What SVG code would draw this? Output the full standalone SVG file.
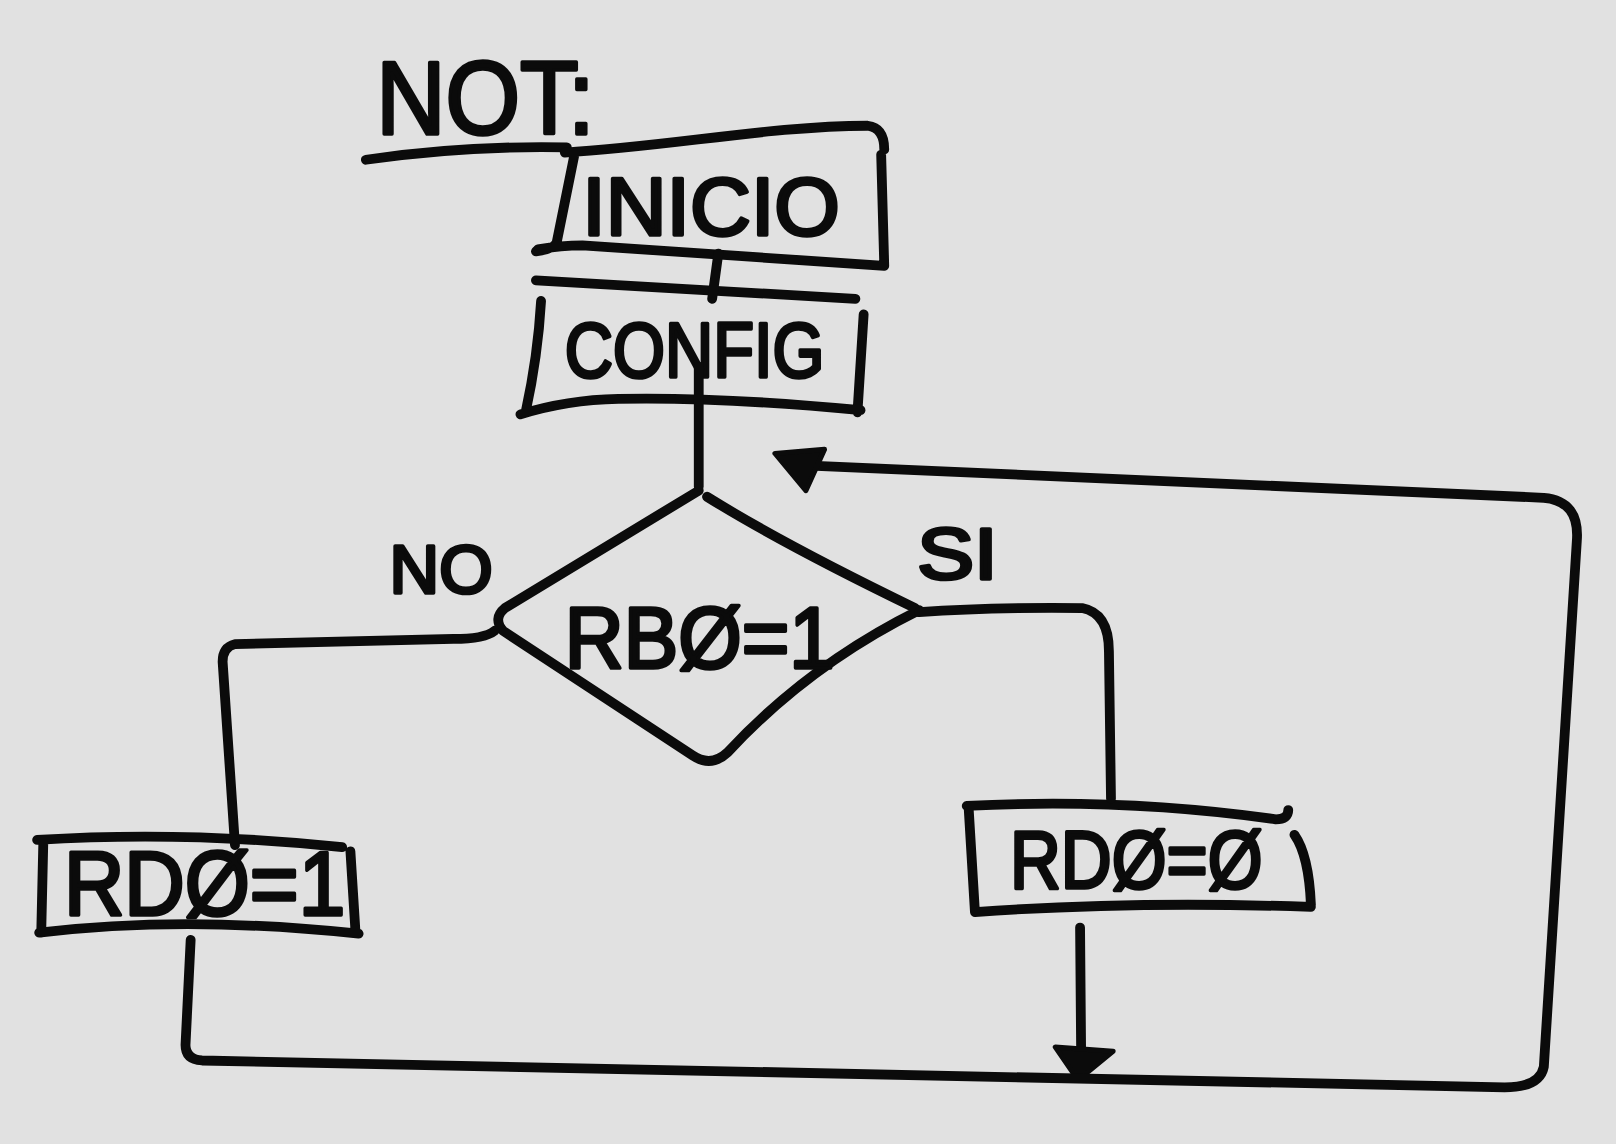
<svg xmlns="http://www.w3.org/2000/svg" width="1616" height="1144" viewBox="0 0 1616 1144">
<style>
.s{fill:none;stroke:#0b0b0b;stroke-width:9.5;stroke-linecap:round;stroke-linejoin:round}
.t{font-family:"Liberation Sans",Arial,sans-serif;fill:#0b0b0b;stroke:#0b0b0b;stroke-width:3.5;stroke-linejoin:round}
.h{fill:#0b0b0b;stroke:#0b0b0b;stroke-width:5;stroke-linejoin:round}
</style>
<rect width="1616" height="1144" fill="#e1e1e1"/>
<g transform="scale(1.0306)">
<g id="title">
<text class="t" x="365" y="130" font-size="100" textLength="212" lengthAdjust="spacingAndGlyphs">NOT:</text>
<path class="s" d="M355,155 Q450,141 550,143"/>
</g>
<g id="inicio">
<path class="s" d="M548,148 C650,142 750,122 842,122 Q858,124 858,145 M855,150 L858,258 M557,152 L540,236 Q536,242 520,244 M522,242 Q545,238 565,238 L858,258"/>
<text class="t" x="565" y="228" font-size="80" textLength="250" lengthAdjust="spacingAndGlyphs">INICIO</text>
</g>
<g id="config">
<path class="s" d="M520,272 L830,290 M525,292 Q522,345 510,400 M838,305 L832,400 M505,402 Q550,388 600,387 Q700,385 835,398"/>
<text class="t" x="548" y="366" font-size="76" textLength="252" lengthAdjust="spacingAndGlyphs">CONFIG</text>
</g>
<g id="decision">
<path class="s" d="M678,476 L490,590 Q478,600 488,612 L672,733 Q690,745 706,730 Q785,645 892,592 M686,482 Q760,528 888,590"/>
<text class="t" x="548" y="648" font-size="84" textLength="262" lengthAdjust="spacingAndGlyphs">RBØ=1</text>
</g>
<g id="label-no"><text class="t" x="378" y="575" font-size="66" textLength="100" lengthAdjust="spacingAndGlyphs">NO</text></g>
<g id="label-si"><text class="t" x="890" y="562" font-size="70" textLength="78" lengthAdjust="spacingAndGlyphs">SI</text></g>
<g id="rd0-1">
<path class="s" d="M36,815 Q180,806 332,822 M340,826 L345,905 M42,818 L40,905 M38,905 Q180,888 348,906"/>
<text class="t" x="62" y="888" font-size="88" textLength="273" lengthAdjust="spacingAndGlyphs">RDØ=1</text>
</g>
<g id="rd0-0">
<path class="s" d="M938,782 Q1090,774 1238,795 Q1250,795 1250,786 M940,786 L946,885 M946,885 Q1100,874 1272,880 M1256,810 Q1270,830 1272,878"/>
<text class="t" x="980" y="862" font-size="80" textLength="245" lengthAdjust="spacingAndGlyphs">RDØ=Ø</text>
</g>
<g id="connectors">
<path class="s" d="M697,246 L691,290"/>
<path class="s" d="M678,356 L678,472"/>
<path class="s" d="M480,612 Q470,620 440,620 L228,625 Q216,628 216,642 L228,820"/>
<path class="s" d="M892,594 Q960,589 1050,590 Q1076,595 1076,632 L1078,775"/>
<path class="s" d="M1048,900 L1049,1018"/>
<polygon class="h" points="1024,1016 1080,1020 1046,1048"/>
<path class="s" d="M185,912 L180,1014 Q180,1028 196,1029 L1460,1055 Q1494,1055 1498,1035 L1530,525 Q1533,486 1498,483 L792,452"/>
<polygon class="h" points="752,440 800,436 782,476"/>
</g>
</g>
</svg>
